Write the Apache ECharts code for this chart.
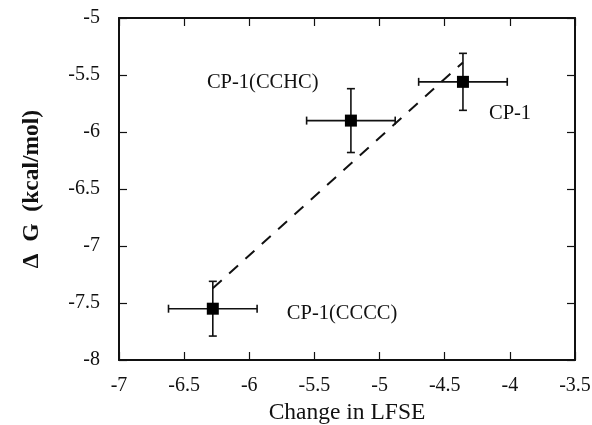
<!DOCTYPE html>
<html><head><meta charset="utf-8">
<script src="https://cdn.jsdelivr.net/npm/echarts@6/dist/echarts.min.js"></script>
<style>html,body{margin:0;padding:0;background:#fff}#c{width:592px;height:425px}</style>
</head><body><div id="c"></div>
<script>
var names = ['CP-1(CCCC)', 'CP-1(CCHC)', 'CP-1'];
var lfse = [-6.28, -5.22, -4.36];
var dG = [-7.55, -5.9, -5.56];
var xErr = [0.34, 0.34, 0.34];
var yErr = [0.24, 0.28, 0.25];
var fitX = [-6.28, -4.36];
var fitY = [-7.37, -5.39];
var xTicks = [-7, -6.5, -6, -5.5, -5, -4.5, -4, -3.5];
var yTicks = [-8, -7.5, -7, -6.5, -6, -5.5, -5];

var font = 'Liberation Serif';
// label placement relative to each point (pixels)
var labelPos = [[80, 0], [-138, -42], [32, 27]];

var pts = names.map(function (n, i) {
  return {
    value: [lfse[i], dG[i]],
    label: { show: true, formatter: n, position: labelPos[i], align: 'left',
      fontFamily: font, fontSize: 20.5, color: '#111', textBorderWidth: 0 }
  };
});

var errData = lfse.map(function (x, i) { return [x, dG[i], xErr[i], yErr[i]]; });

var axisCommon = {
  axisLine: { show: true, lineStyle: { color: '#111', width: 2 } },
  axisTick: { show: true, inside: true, length: 8, lineStyle: { color: '#111', width: 1.2 } },
  splitLine: { show: false }
};

var chart = echarts.init(document.getElementById('c'));
chart.setOption({
  animation: false,
  backgroundColor: '#fff',
  grid: { left: 119, right: 17, top: 18, bottom: 65, containLabel: false, outerBoundsMode: 'none' },
  xAxis: [
    Object.assign({ type: 'value', min: -7, max: -3.5, interval: 0.5, position: 'bottom',
      name: 'Change in LFSE', nameLocation: 'middle', nameGap: 40,
      nameTextStyle: { fontFamily: font, fontSize: 23.5, color: '#111' },
      axisLabel: { fontFamily: font, fontSize: 20, color: '#111', margin: 16,
        formatter: function (v) { return String(v); } } }, axisCommon),
    Object.assign({ type: 'value', min: -7, max: -3.5, interval: 0.5, position: 'top',
      axisLabel: { show: false } }, axisCommon)
  ],
  yAxis: [
    Object.assign({ type: 'value', min: -8, max: -5, interval: 0.5, position: 'left',
      name: 'Δ  G  (kcal/mol)', nameLocation: 'middle', nameGap: 75,
      nameTextStyle: { fontFamily: font, fontSize: 23.5, fontWeight: 'bold', color: '#111' },
      axisLabel: { fontFamily: font, fontSize: 20, color: '#111', margin: 19 } }, axisCommon),
    Object.assign({ type: 'value', min: -8, max: -5, interval: 0.5, position: 'right',
      axisLabel: { show: false } }, axisCommon)
  ],
  series: [
    {
      type: 'line', data: fitX.map(function (x, i) { return [x, fitY[i]]; }),
      showSymbol: false, symbol: 'none',
      lineStyle: { color: '#111', width: 2, type: [12, 10] }, z: 1
    },
    {
      type: 'custom', data: errData, z: 2,
      renderItem: function (params, api) {
        var x = api.value(0), y = api.value(1), ex = api.value(2), ey = api.value(3);
        var l = api.coord([x - ex, y]), r = api.coord([x + ex, y]);
        var t = api.coord([x, y + ey]), b = api.coord([x, y - ey]);
        var c = 4;
        var st = { stroke: '#111', lineWidth: 1.6 };
        return { type: 'group', children: [
          { type: 'line', shape: { x1: l[0], y1: l[1], x2: r[0], y2: r[1] }, style: st },
          { type: 'line', shape: { x1: l[0], y1: l[1] - c, x2: l[0], y2: l[1] + c }, style: st },
          { type: 'line', shape: { x1: r[0], y1: r[1] - c, x2: r[0], y2: r[1] + c }, style: st },
          { type: 'line', shape: { x1: t[0], y1: t[1], x2: b[0], y2: b[1] }, style: st },
          { type: 'line', shape: { x1: t[0] - c, y1: t[1], x2: t[0] + c, y2: t[1] }, style: st },
          { type: 'line', shape: { x1: b[0] - c, y1: b[1], x2: b[0] + c, y2: b[1] }, style: st }
        ] };
      }
    },
    {
      type: 'scatter', data: pts, symbol: 'rect', symbolSize: 12,
      itemStyle: { color: '#000', opacity: 1 }, z: 3
    }
  ]
});
</script></body></html>
